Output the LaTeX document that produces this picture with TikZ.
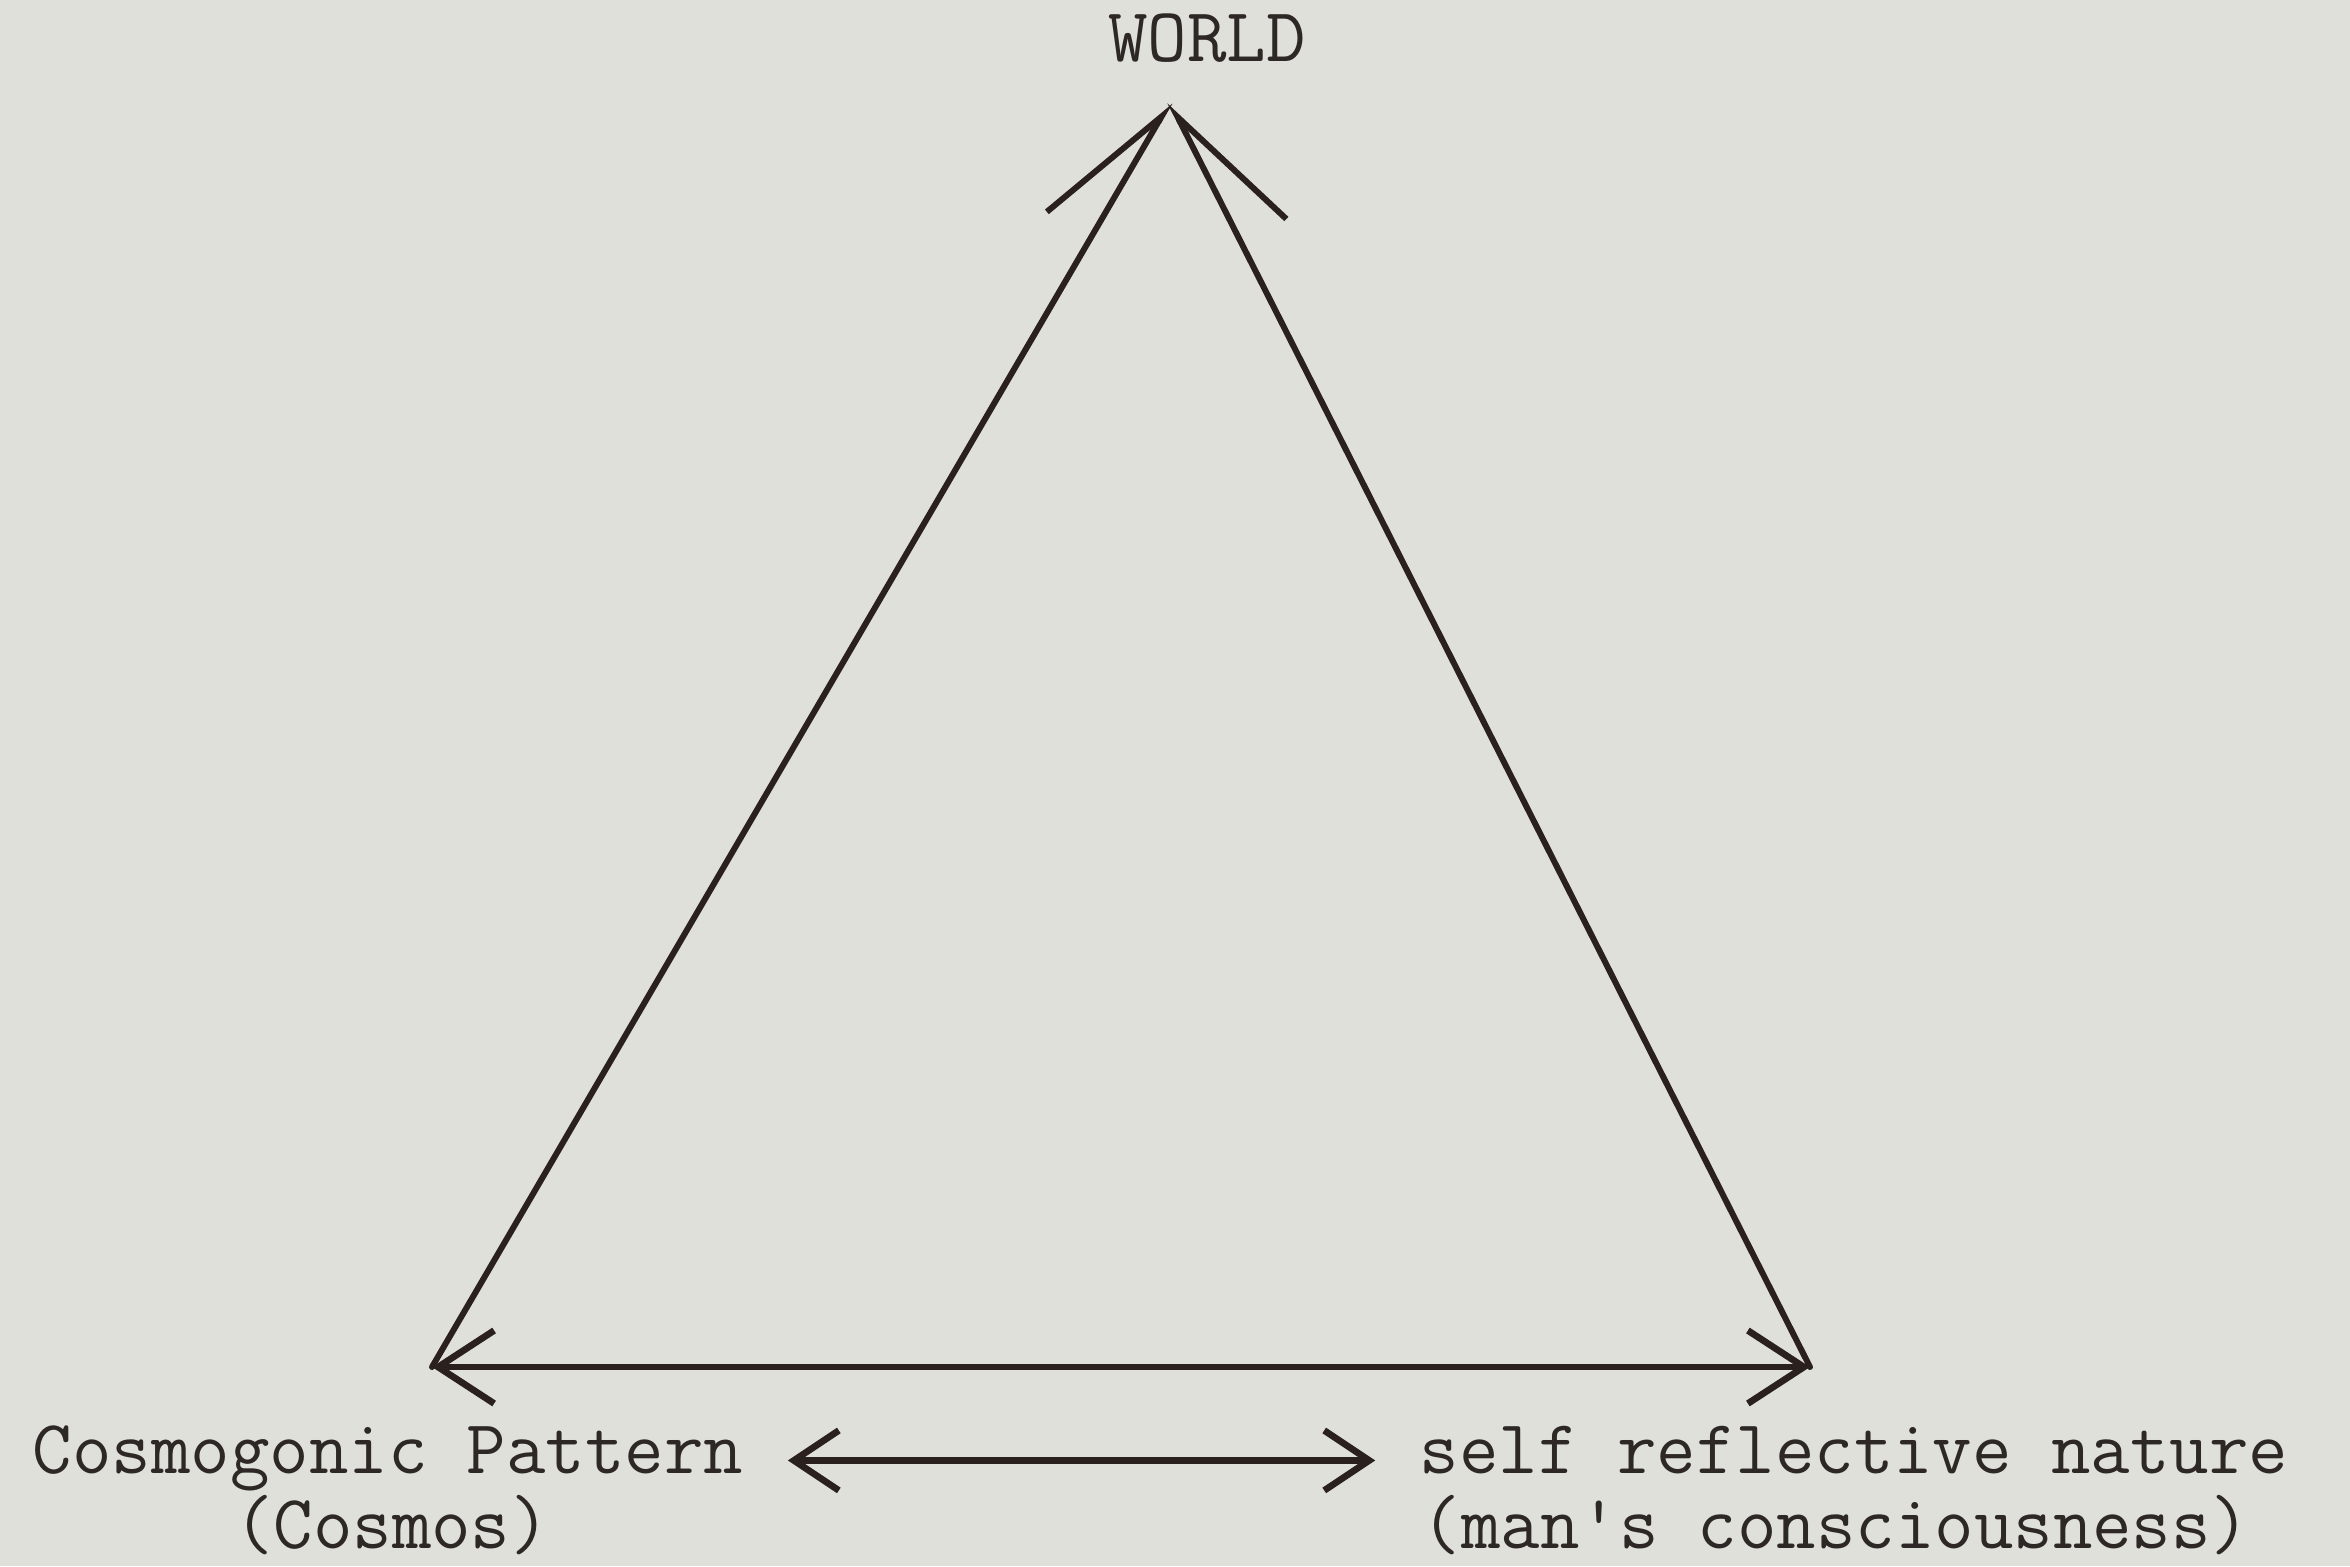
\documentclass[tikz,border=0pt]{standalone}
\usepackage{fontspec}
\usepackage{xcolor}
\usetikzlibrary{arrows.meta}
\definecolor{paper}{RGB}{224,224,218}
\definecolor{ink}{RGB}{42,32,30}
\definecolor{type}{RGB}{45,40,38}

\begin{document}
\begin{tikzpicture}[
    label/.style={font=\ttfamily\fontsize{21.8}{22}\selectfont, text=type, anchor=base, inner sep=0pt},
    upper/.style={label, text depth=0.12cm},
    lower/.style={label, text height=0.5cm},
    edge/.style={draw=ink, line width=1.7pt, line cap=round}
  ]
    \fill[paper] (0,0) rectangle (23.5,15.66);
    \useasboundingbox (0,0) rectangle (23.5,15.66);

    % corners
    \coordinate (top) at (11.70,14.64);
    \coordinate (left) at (4.32,1.99);
    \coordinate (right) at (18.10,1.99);

    % labels
    \node[label] (world) at (12.07,15.04) {WORLD};
    \node[upper] (cosmos) at (3.88,0.93) {Cosmogonic Pattern};
    \node[lower] (cosmos2) at (3.92,0.18) {(Cosmos)};
    \node[upper] (self) at (18.54,0.93) {self reflective nature};
    \node[lower] (self2) at (18.36,0.18) {(man's consciousness)};

    % triangle
    \draw[edge, -{Straight Barb[harpoon, length=1.4cm, width=1.02cm]}] (left) -- (top);
    \draw[edge, -{Straight Barb[harpoon, swap, length=1.4cm, width=1.02cm]}] (right) -- (top);
    \draw[edge, line width=1.9pt, {Straight Barb[length=0.56cm, width=0.73cm]}-{Straight Barb[length=0.56cm, width=0.73cm]}] (left) -- (right);

    % bottom
    \draw[edge, line width=1.9pt, shorten <=0.44cm, shorten >=0.44cm, {Straight Barb[length=0.45cm, width=0.6cm]}-{Straight Barb[length=0.45cm, width=0.6cm]}] ([yshift=0.05cm]cosmos.mid east) -- ([yshift=0.05cm]self.mid west);
\end{tikzpicture}
\end{document}
